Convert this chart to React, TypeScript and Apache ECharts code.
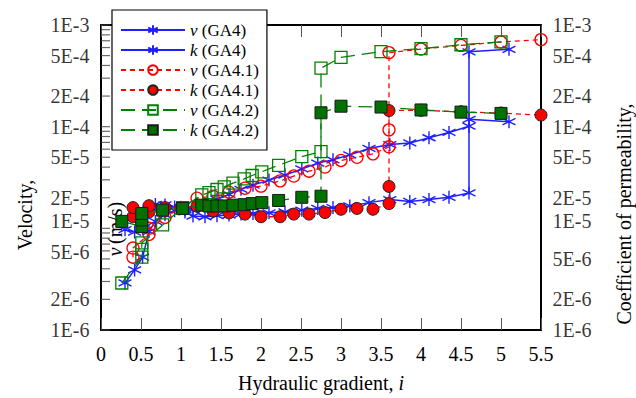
import React, { useEffect, useRef } from 'react';
import * as echarts from 'echarts';

// ---- data ----
const iGA4 = [0.3, 0.42, 0.52, 0.6, 0.68, 0.8, 0.92, 1.05, 1.15, 1.3, 1.45, 1.6, 1.75, 1.9, 2.1, 2.3, 2.51, 2.71, 2.9, 3.11, 3.35, 3.61, 3.86, 4.1, 4.35, 4.6, 4.6, 5.1];
const vGA4 = [2.9e-6, 3.9e-6, 5.2e-6, 9.3e-6, 1.17e-5, 1.36e-5, 1.49e-5, 1.52e-5, 1.52e-5, 1.69e-5, 1.93e-5, 2.16e-5, 2.42e-5, 2.66e-5, 2.98e-5, 3.34e-5, 3.84e-5, 4.38e-5, 4.72e-5, 5.28e-5, 6.1e-5, 6.67e-5, 6.92e-5, 7.78e-5, 8.77e-5, 1.01e-4, 5.45e-4, 5.76e-4];
const kGA4 = [9.7e-6, 9.2e-6, 1.0e-5, 1.55e-5, 1.72e-5, 1.7e-5, 1.62e-5, 1.45e-5, 1.32e-5, 1.3e-5, 1.33e-5, 1.35e-5, 1.38e-5, 1.4e-5, 1.42e-5, 1.45e-5, 1.51e-5, 1.57e-5, 1.6e-5, 1.66e-5, 1.79e-5, 1.92e-5, 1.84e-5, 1.92e-5, 2.02e-5, 2.23e-5, 1.18e-4, 1.12e-4];

const iGA41 = [0.4, 0.4, 0.6, 0.6, 0.8, 1.0, 1.2, 1.4, 1.6, 1.8, 2.0, 2.24, 2.41, 2.6, 2.8, 3.0, 3.2, 3.4, 3.6, 3.6, 3.6, 4.0, 4.5, 5.0, 5.5];
const vGA41 = [5.2e-6, 6.4e-6, 8.7e-6, 1.0e-5, 1.28e-5, 1.6e-5, 1.98e-5, 2.07e-5, 2.27e-5, 2.48e-5, 2.6e-5, 2.93e-5, 3.27e-5, 3.65e-5, 4.01e-5, 4.65e-5, 5.0e-5, 5.4e-5, 6.34e-5, 9.3e-5, 5.35e-4, 5.8e-4, 6.3e-4, 6.8e-4, 7.18e-4];
const kGA41 = [1.3e-5, 1.6e-5, 1.45e-5, 1.67e-5, 1.6e-5, 1.6e-5, 1.65e-5, 1.48e-5, 1.42e-5, 1.38e-5, 1.3e-5, 1.3e-5, 1.38e-5, 1.38e-5, 1.43e-5, 1.54e-5, 1.57e-5, 1.54e-5, 1.75e-5, 2.58e-5, 1.44e-4, 1.45e-4, 1.4e-4, 1.36e-4, 1.3e-4];

const iGA42 = [0.26, 0.51, 0.51, 0.51, 0.77, 1.02, 1.26, 1.35, 1.45, 1.54, 1.65, 1.79, 1.89, 2.01, 2.22, 2.51, 2.75, 2.75, 3.0, 3.5, 4.0, 4.5, 5.0];
const vGA42 = [2.9e-6, 5.2e-6, 6.2e-6, 7.2e-6, 1.08e-5, 1.6e-5, 2.13e-5, 2.24e-5, 2.41e-5, 2.56e-5, 2.79e-5, 3.06e-5, 3.31e-5, 3.6e-5, 4.17e-5, 5.07e-5, 5.68e-5, 3.76e-4, 4.8e-4, 5.47e-4, 5.85e-4, 6.39e-4, 6.83e-4];
const kGA42 = [1.17e-5, 1.04e-5, 1.21e-5, 1.4e-5, 1.51e-5, 1.57e-5, 1.69e-5, 1.66e-5, 1.66e-5, 1.66e-5, 1.69e-5, 1.71e-5, 1.75e-5, 1.79e-5, 1.88e-5, 2.02e-5, 2.07e-5, 1.37e-4, 1.59e-4, 1.56e-4, 1.46e-4, 1.39e-4, 1.35e-4];

const yTickLabelValues = [1e-3, 5e-4, 2e-4, 1e-4, 5e-5, 2e-5, 1e-5, 5e-6, 2e-6, 1e-6];
const yTickLabelTexts = ['1E-3', '5E-4', '2E-4', '1E-4', '5E-5', '2E-5', '1E-5', '5E-6', '2E-6', '1E-6'];
const yMinorTickValues = [
  1e-6, 2e-6, 3e-6, 4e-6, 5e-6, 6e-6, 7e-6, 8e-6, 9e-6,
  1e-5, 2e-5, 3e-5, 4e-5, 5e-5, 6e-5, 7e-5, 8e-5, 9e-5,
  1e-4, 2e-4, 3e-4, 4e-4, 5e-4, 6e-4, 7e-4, 8e-4, 9e-4, 1e-3,
];

const X_MIN = 0;
const X_MAX = 5.5;
const FONT = '"Liberation Serif", "Times New Roman", serif';

const pairs = (xs: number[], ys: number[]) => xs.map((x, i) => [x, ys[i]]);

const ASTERISK = 'path://M0,-10L0,10M-8.66,-5L8.66,5M-8.66,5L8.66,-5';

export default function App() {
  const ref = useRef<HTMLDivElement>(null);

  useEffect(() => {
    if (!ref.current) return;
    const chart = echarts.init(ref.current, undefined, { renderer: 'svg' });

    const blue = '#1f1fff';
    const red = '#ff0000';
    const green = '#008000';
    const greenFill = '#007000';

    const leftLabelOffsets: Record<string, number[]> = { '1E-5': [0, -7], '5E-6': [0, -7] };
    const rightLabelOffsets: Record<string, number[]> = { '1E-5': [0, -7] };

    const option: any = {
      animation: false,
      backgroundColor: '#fff',
      grid: { left: 101, right: 95, top: 25, bottom: 60, containLabel: false },
      legend: {
        orient: 'vertical',
        left: 112,
        top: 10,
        padding: [10, 8, 10, 8],
        itemWidth: 64,
        itemHeight: 12,
        itemGap: 0,
        backgroundColor: '#fff',
        borderColor: '#000',
        borderWidth: 1.2,
        borderRadius: 0,
        selectedMode: false,
        data: ['v (GA4)', 'k (GA4)', 'v (GA4.1)', 'k (GA4.1)', 'v (GA4.2)', 'k (GA4.2)'],
        formatter: (name: string) => `{i|${name[0]}}{n|${name.slice(1)}}`,
        textStyle: {
          fontFamily: FONT,
          fontSize: 17,
          color: '#000',
          lineHeight: 20,
          rich: {
            i: { fontFamily: FONT, fontSize: 17, fontStyle: 'italic', color: '#000', lineHeight: 20 },
            n: { fontFamily: FONT, fontSize: 17, color: '#000', lineHeight: 20 },
          },
        },
        z: 10,
      },
      xAxis: [
        {
          type: 'value',
          min: X_MIN,
          max: X_MAX,
          interval: 0.5,
          position: 'bottom',
          name: '{n|Hydraulic gradient, }{i|i}',
          nameLocation: 'middle',
          nameGap: 43,
          nameTextStyle: {
            rich: {
              n: { fontFamily: FONT, fontSize: 20, color: '#000' },
              i: { fontFamily: FONT, fontSize: 20, color: '#000', fontStyle: 'italic' },
            },
          },
          axisLine: { show: true, onZero: false, lineStyle: { color: '#000', width: 2 } },
          axisTick: { show: true, inside: true, length: 12, lineStyle: { color: '#555', width: 1 } },
          axisLabel: { show: true, margin: 14, fontFamily: FONT, fontSize: 20, color: '#000' },
          splitLine: { show: false },
        },
        {
          type: 'value',
          min: X_MIN,
          max: X_MAX,
          interval: 0.5,
          position: 'top',
          axisLine: { show: true, onZero: false, lineStyle: { color: '#000', width: 2 } },
          axisTick: { show: true, inside: true, length: 12, lineStyle: { color: '#555', width: 1 } },
          axisLabel: { show: false },
          splitLine: { show: false },
        },
      ],
      yAxis: [
        {
          type: 'log',
          logBase: 10,
          min: 1e-6,
          max: 1e-3,
          position: 'left',
          axisLine: { show: true, onZero: false, lineStyle: { color: '#000', width: 2 } },
          axisTick: { show: false },
          axisLabel: { show: false },
          splitLine: { show: false },
        },
        {
          type: 'log',
          logBase: 10,
          min: 1e-6,
          max: 1e-3,
          position: 'right',
          axisLine: { show: true, onZero: false, lineStyle: { color: '#000', width: 2 } },
          axisTick: { show: false },
          axisLabel: { show: false },
          splitLine: { show: false },
        },
      ],
      graphic: [
        {
          type: 'text',
          x: 25,
          y: 215,
          rotation: Math.PI / 2,
          style: { text: 'Velocity,', font: `20px ${FONT}`, fill: '#000', align: 'center', verticalAlign: 'middle' },
        },
        {
          type: 'text',
          x: 624,
          y: 214,
          rotation: Math.PI / 2,
          style: { text: 'Coefficient of permeability,', font: `20px ${FONT}`, fill: '#000', align: 'center', verticalAlign: 'middle' },
        },
        {
          type: 'text',
          x: 115,
          y: 229,
          z: -1,
          rotation: Math.PI / 2,
          style: {
            text: '{i|v} {n|(m/s)}',
            align: 'center',
            verticalAlign: 'middle',
            rich: {
              i: { fontFamily: FONT, fontSize: 20, fontStyle: 'italic', fill: '#000' },
              n: { fontFamily: FONT, fontSize: 20, fill: '#000' },
            },
          },
        },
      ],
      series: [
        {
          name: 'yticks',
          type: 'scatter',
          xAxisIndex: 0,
          yAxisIndex: 0,
          silent: true,
          clip: false,
          symbol: 'rect',
          symbolSize: [9, 1.2],
          symbolOffset: [4.5, 0],
          itemStyle: { color: '#444' },
          data: yMinorTickValues.map((v) => [X_MIN, v]),
          z: 1,
        },
        {
          name: 'ylabelsL',
          type: 'scatter',
          xAxisIndex: 0,
          yAxisIndex: 0,
          silent: true,
          clip: false,
          symbolSize: 1,
          itemStyle: { color: 'rgba(0,0,0,0)' },
          data: yTickLabelValues.map((v, idx) => ({
            value: [X_MIN, v],
            name: yTickLabelTexts[idx],
            label: { offset: leftLabelOffsets[yTickLabelTexts[idx]] || [0, 0] },
          })),
          label: {
            show: true,
            position: 'left',
            distance: 11,
            formatter: (p: any) => p.name,
            fontFamily: FONT,
            fontSize: 20,
            color: '#000',
          },
        },
        {
          name: 'ylabelsR',
          type: 'scatter',
          xAxisIndex: 0,
          yAxisIndex: 1,
          silent: true,
          clip: false,
          symbolSize: 1,
          itemStyle: { color: 'rgba(0,0,0,0)' },
          data: yTickLabelValues.map((v, idx) => ({
            value: [X_MAX, v],
            name: yTickLabelTexts[idx],
            label: { offset: rightLabelOffsets[yTickLabelTexts[idx]] || [0, 0] },
          })),
          label: {
            show: true,
            position: 'right',
            distance: 11,
            formatter: (p: any) => p.name,
            fontFamily: FONT,
            fontSize: 20,
            color: '#000',
          },
        },
        {
          name: 'v (GA4)',
          type: 'line',
          yAxisIndex: 0,
          data: pairs(iGA4, vGA4),
          symbol: ASTERISK,
          symbolSize: 13,
          showAllSymbol: true,
          lineStyle: { color: blue, width: 1.5 },
          itemStyle: { color: blue, borderColor: blue, borderWidth: 1.4 },
          z: 3,
        },
        {
          name: 'k (GA4)',
          type: 'line',
          yAxisIndex: 1,
          data: pairs(iGA4, kGA4),
          symbol: ASTERISK,
          symbolSize: 13,
          showAllSymbol: true,
          lineStyle: { color: blue, width: 1.5 },
          itemStyle: { color: blue, borderColor: blue, borderWidth: 1.4 },
          z: 3,
        },
        {
          name: 'v (GA4.1)',
          type: 'line',
          yAxisIndex: 0,
          data: pairs(iGA41, vGA41),
          symbol: 'circle',
          symbolSize: 12,
          showAllSymbol: true,
          lineStyle: { color: red, width: 1.3, type: [5, 4] },
          itemStyle: { color: 'rgba(255,255,255,0)', borderColor: red, borderWidth: 1.3 },
          z: 4,
        },
        {
          name: 'k (GA4.1)',
          type: 'line',
          yAxisIndex: 1,
          data: pairs(iGA41, kGA41),
          symbol: 'circle',
          symbolSize: 12,
          showAllSymbol: true,
          lineStyle: { color: red, width: 1.3, type: [5, 4] },
          itemStyle: { color: red, borderColor: '#222', borderWidth: 1 },
          z: 4,
        },
        {
          name: 'v (GA4.2)',
          type: 'line',
          yAxisIndex: 0,
          data: pairs(iGA42, vGA42),
          symbol: 'rect',
          symbolSize: 12,
          showAllSymbol: true,
          lineStyle: { color: green, width: 1.3, type: [14, 7] },
          itemStyle: { color: 'rgba(255,255,255,0)', borderColor: green, borderWidth: 1.3 },
          z: 5,
        },
        {
          name: 'k (GA4.2)',
          type: 'line',
          yAxisIndex: 1,
          data: pairs(iGA42, kGA42),
          symbol: 'rect',
          symbolSize: 12,
          showAllSymbol: true,
          lineStyle: { color: green, width: 1.3, type: [14, 7] },
          itemStyle: { color: greenFill, borderColor: '#1a1a1a', borderWidth: 1 },
          z: 5,
        },
      ],
    };

    chart.setOption(option);
    return () => chart.dispose();
  }, []);

  return (
    <div
      ref={ref}
      style={{ position: 'fixed', left: 0, top: 0, width: 636, height: 398, background: '#fff' }}
    />
  );
}
